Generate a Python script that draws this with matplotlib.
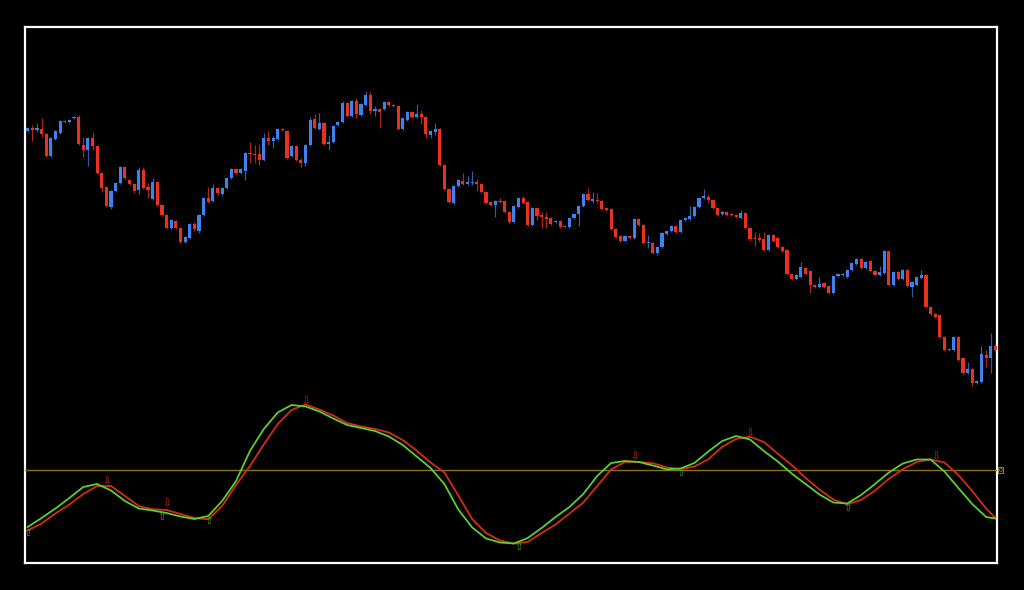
import numpy as np
import matplotlib
matplotlib.use("Agg")
import matplotlib.pyplot as plt

# ---------------- price data (210 bars) ----------------
opens = [469,472,470,471,466,444,461,467,479,478,482,483,455,450,462,454,427,413,393,409,
         417,433,420,416,410,430,413,401,418,395,385,372,379,372,358,362,376,369,385,402,
         399,412,406,412,422,431,427,429,447,446,446,440,462,459,461,471,469,444,454,440,
         437,455,481,471,477,456,458,475,478,497,484,499,485,495,505,489,491,491,498,495,
         494,471,480,488,483,486,483,465,468,471,435,411,397,414,419,416,417,418,416,408,
         398,395,399,399,388,378,393,402,398,375,392,385,383,382,378,379,374,373,382,386,
         394,406,399,400,399,392,391,371,364,359,364,362,381,375,357,357,347,353,366,369,
         374,368,380,381,384,393,402,403,400,392,386,388,386,385,382,387,372,362,362,361,
         350,365,362,353,350,326,321,323,332,329,315,313,317,314,307,324,325,323,330,336,
         341,332,339,329,325,327,349,315,328,321,330,313,315,322,325,293,286,285,263,251,
         250,263,242,227,231,217,218,245,242,254]
closes = [472,470,472,466,444,462,469,479,478,480,483,456,450,462,454,427,412,394,409,417,
          433,422,416,409,430,412,410,418,395,385,372,380,372,358,363,376,371,385,402,398,
          412,407,412,422,431,427,431,447,446,445,440,462,459,462,471,470,442,454,440,437,
          455,480,472,477,456,458,474,478,497,484,499,486,496,505,489,491,488,498,495,494,
          471,482,488,483,486,483,466,469,471,435,411,398,414,420,416,418,418,416,408,397,
          395,399,398,388,378,394,402,397,375,392,384,383,381,376,379,373,373,382,386,394,
          406,400,401,399,391,390,371,363,359,364,362,381,375,357,358,347,353,367,369,374,
          368,380,382,384,393,402,404,400,392,385,388,385,385,383,387,372,361,361,360,350,
          365,359,353,349,326,321,325,333,326,315,313,316,313,307,324,326,326,330,337,341,
          332,338,329,325,328,349,315,328,321,330,314,318,323,325,293,286,283,263,250,250,
          263,240,227,231,217,219,246,242,254,250]
highs = [473,475,477,482,467,463,470,480,480,481,484,485,463,463,468,455,428,414,410,418,
         434,434,421,417,433,433,417,422,419,396,386,381,380,373,364,377,378,386,403,413,
         416,413,413,423,432,432,432,448,458,455,456,467,469,464,472,472,470,455,455,442,
         456,483,486,487,478,465,475,479,499,498,500,502,497,509,508,494,492,499,499,496,
         495,483,489,489,496,490,484,470,477,472,436,412,415,421,427,424,429,421,417,409,
         399,400,402,400,389,395,403,404,399,393,393,388,388,383,380,380,375,383,387,395,
         407,412,408,407,400,393,392,372,365,365,365,382,382,376,365,358,354,368,370,375,
         375,381,383,394,394,403,411,406,401,393,389,389,387,386,390,388,373,368,367,368,
         366,366,363,354,351,327,326,338,333,330,316,323,318,315,325,327,327,331,338,342,
         342,339,340,330,334,350,350,329,329,331,331,319,324,330,326,294,287,286,264,252,
         264,264,243,238,232,220,254,250,267,255]
lows = [468,459,468,463,443,443,460,466,477,477,481,455,443,434,450,426,408,393,391,408,
        416,421,415,407,406,411,402,400,394,384,371,371,371,357,357,361,369,367,384,397,
        398,405,404,411,421,426,426,420,437,437,435,439,455,452,460,469,441,443,439,433,
        434,454,471,470,455,450,457,474,477,483,483,482,484,494,486,484,472,490,494,493,
        470,470,479,482,482,476,462,462,465,434,410,397,396,413,415,415,415,409,407,396,
        394,383,397,387,377,377,392,396,374,374,380,372,372,375,377,372,372,372,381,374,
        393,399,397,397,390,389,370,362,358,358,361,361,374,356,352,346,345,352,365,368,
        367,367,379,380,383,392,401,397,391,384,385,384,384,382,381,371,359,354,358,349,
        349,358,352,348,325,320,320,322,325,307,312,312,312,306,306,323,324,322,329,335,
        331,331,328,324,324,326,314,314,320,320,313,303,314,321,292,285,282,262,249,249,
        249,239,226,226,214,216,217,233,227,249]

# ---------------- oscillator data ----------------
osc_idx = [0,3,6,9,12,15,18,21,24,27,30,33,36,39,42,45,48,51,54,57,60,63,66,69,72,75,78,81,84,87,
           90,93,96,99,102,105,108,111,114,117,120,123,126,129,132,135,138,141,144,147,150,153,156,159,
           162,165,168,171,174,177,180,183,186,189,192,195,198,201,204,207,209]
osc_fast = [-57,-48,-38.5,-28,-17,-14,-20.5,-31,-38.5,-40.5,-43,-46.5,-49,-46,-31,-11,19,41,57.5,65,
            63.5,58.5,51.5,45,42,39,33.5,25,13.5,2,-14,-39.5,-57.5,-68.5,-72.5,-73.5,-68,-58,-47,-37,
            -24,-6,7,9,8,4.5,0.7,1.5,7,18.5,29,34,30.5,19,8.5,-3.5,-14,-24.5,-32.5,-33.5,
            -25,-14,-2.5,6.5,10.5,10.5,-1.5,-18,-34,-47,-48.5]
osc_slow = [-60.5,-53.5,-43.5,-34.5,-24,-16,-16,-26,-36,-39.3,-40,-44,-48,-49.3,-36,-15,4,25.5,46,60,
            65.5,60.5,54.5,47,43.5,41,37.5,30,19.5,7.5,-2.5,-25.5,-49,-63,-70.5,-73.5,-72,-63,-54.5,-43.5,
            -32.5,-16,0.5,8,8,6.8,2.7,0.8,3.5,10.7,23.2,31.1,33.3,28,16.3,5,-7.9,-19.5,-29.5,-34.3,
            -30,-20.5,-8.8,0.7,8,10.5,7.5,-5,-21,-38.5,-48]

sell_idx = [17, 30, 60, 131, 156, 196]
sell_lvl = [-11.7, -33.5, 68.3, 14, 36.7, 14]
buy_idx = [0, 29, 39, 106, 141, 177]
buy_lvl = [-63, -47.5, -50.7, -77.3, -3.3, -38.3]

# ---------------- styling ----------------
BG = "black"
UP = "#3d82ee"
DN = "#e8311f"
UP_W = "#2c5ea8"
DN_W = "#a8281a"
GREEN = "#5ccf2c"
RED = "#d62a1c"
ZERO = "#8a7418"

W, H = 1024, 590
fig = plt.figure(figsize=(W / 100, H / 100), dpi=100, facecolor=BG)
rect = [25 / W, 1 - 563 / H, 972 / W, 536 / H]

ax = fig.add_axes(rect)
ax.set_facecolor(BG)
for s in ax.spines.values():
    s.set_color("white")
    s.set_linewidth(1.6)
ax.set_xticks([])
ax.set_yticks([])

o = np.array(opens, float)
c = np.array(closes, float)
h = np.array(highs, float)
l = np.array(lows, float)
x = np.arange(len(o))
up = c >= o

ax.vlines(x[up], l[up], h[up], color=UP_W, linewidth=0.9, zorder=2)
ax.vlines(x[~up], l[~up], h[~up], color=DN_W, linewidth=0.9, zorder=2)
bottom = np.minimum(o, c)
height = np.maximum(np.abs(c - o), 0.8)
ax.bar(x[up], height[up], bottom=bottom[up], width=0.68, color=UP, linewidth=0, zorder=3)
ax.bar(x[~up], height[~up], bottom=bottom[~up], width=0.68, color=DN, linewidth=0, zorder=3)

ax.set_xlim(-0.58, 209.35)
ax.set_ylim(37, 573)

# oscillator overlay
ax2 = fig.add_axes(rect, sharex=ax)
ax2.patch.set_visible(False)
for s in ax2.spines.values():
    s.set_visible(False)
ax2.set_yticks([])
ax2.tick_params(bottom=False, labelbottom=False)
ax2.set_ylim(-93, 443)

ax2.axhline(0, color=ZERO, linewidth=1.0, zorder=1)
ax2.plot(osc_idx, osc_slow, color=RED, linewidth=1.3, zorder=3, solid_joinstyle="round")
ax2.plot(osc_idx, osc_fast, color=GREEN, linewidth=1.3, zorder=4, solid_joinstyle="round")

for i, v in zip(sell_idx, sell_lvl):
    ax2.text(i, v, "\u21e9", color="#c82a1c", fontsize=7.5, ha="center", va="center",
             family="DejaVu Sans", zorder=5)
for i, v in zip(buy_idx, buy_lvl):
    ax2.text(i, v, "\u21e7", color="#3c9e2a", fontsize=7.5, ha="center", va="center",
             family="DejaVu Sans", zorder=5)

ax2.text(1.0015, 0, "0", transform=ax2.get_yaxis_transform(), color="#c8a040",
         fontsize=4.5, ha="left", va="center", clip_on=False,
         bbox=dict(boxstyle="square,pad=0.15", fc="none", ec="#b89038", lw=0.6))

fig.savefig("out.png", dpi=100, facecolor=BG)
